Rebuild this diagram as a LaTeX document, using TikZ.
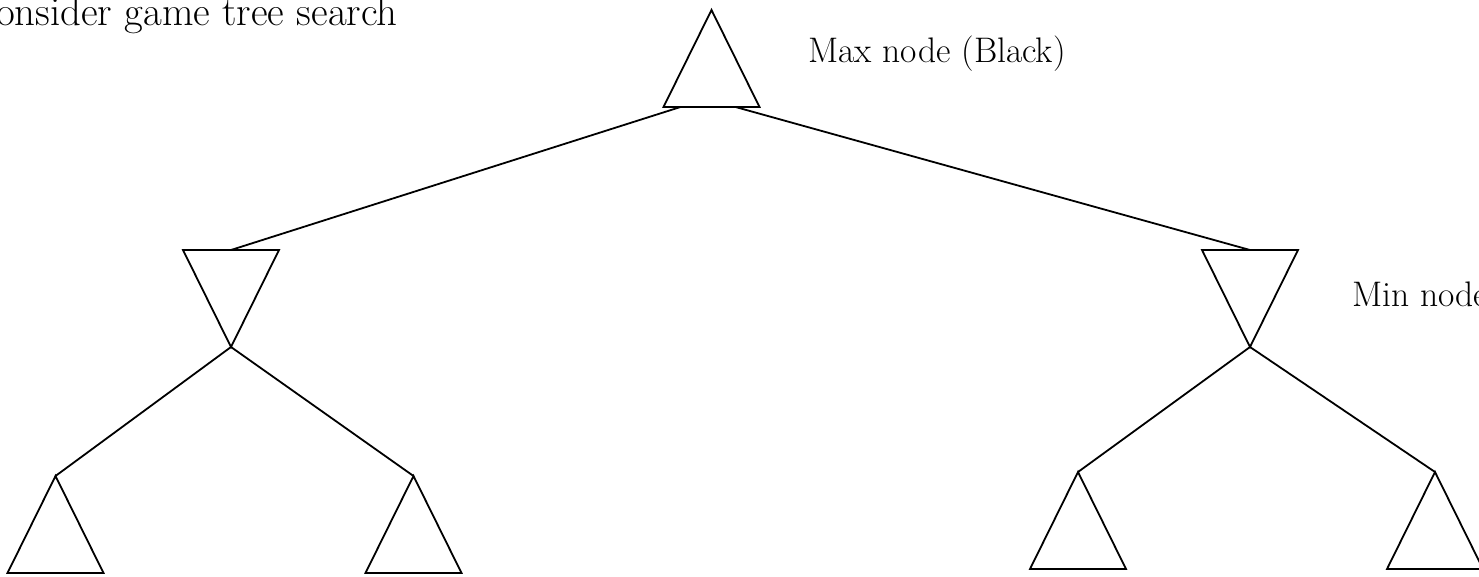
\documentclass[tikz,border=0pt]{standalone}
\usetikzlibrary{shapes.geometric}
\tikzset{
  tri/.style={draw, isosceles triangle, isosceles triangle stretches, minimum width=48pt, minimum height=48.5pt, inner sep=0pt, outer sep=0pt, line width=0.9pt},
  maxnode/.style={tri, shape border rotate=90},
  minnode/.style={tri, shape border rotate=270},
  edge/.style={line width=0.9pt},
  label/.style={font=\fontsize{17.75}{20}\selectfont, inner sep=0pt}
}
\begin{document}
\begin{tikzpicture}[x=0.5pt, y=-0.5pt]
\useasboundingbox (0,0) rectangle (1479,577);
% tree levels
\node[maxnode, anchor=apex] (root) at (711.5,10) {};
\node[minnode, anchor=apex] (minL) at (231,347) {};
\node[minnode, anchor=apex] (minR) at (1250,347) {};
\node[maxnode, anchor=apex] (leafLL) at (55.5,476) {};
\node[maxnode, anchor=apex] (leafLR) at (413.5,476) {};
\node[maxnode, anchor=apex] (leafRL) at (1078,472) {};
\node[maxnode, anchor=apex] (leafRR) at (1435,472) {};
% labels
\node[label, font=\fontsize{20.4}{24}\selectfont, anchor=base east] (title) at (398,26) {Consider game tree search};
\node[label, anchor=base west] (maxlbl) at (808,63) {Max node (Black)};
\node[label, anchor=base west] (minlbl) at (1352,307) {Min node};
% edges
\draw[edge] ([xshift=-15.5pt]root.lower side) -- (minL.lower side);
\draw[edge] ([xshift=12pt]root.lower side) -- (minR.lower side);
\draw[edge] (minL.apex) -- (leafLL.apex);
\draw[edge] (minL.apex) -- (leafLR.apex);
\draw[edge] (minR.apex) -- (leafRL.apex);
\draw[edge] (minR.apex) -- (leafRR.apex);
\end{tikzpicture}
\end{document}
